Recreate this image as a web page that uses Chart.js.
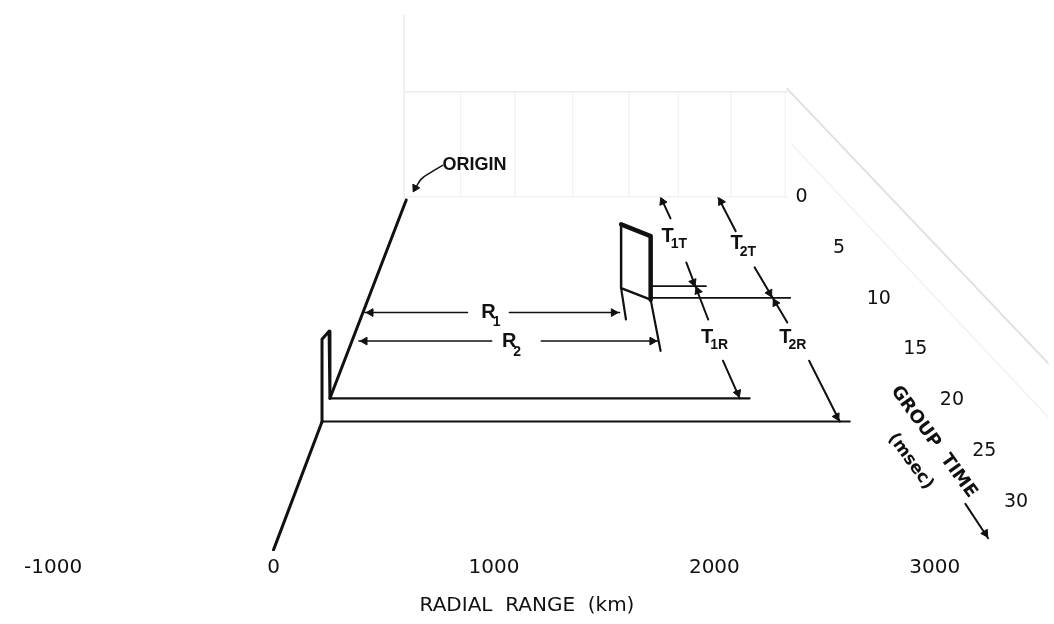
<!DOCTYPE html>
<html>
<head>
<meta charset="utf-8">
<script src="https://cdn.jsdelivr.net/npm/chart.js@4.4.1/dist/chart.umd.min.js"></script>
<style>
  html, body { margin: 0; padding: 0; background: #fff; }
  canvas { display: block; }
</style>
</head>
<body>
<canvas id="chart" width="1054" height="624"></canvas>
<script>
// axe horizontal : portee radiale (km), axe "vertical" : temps de groupe (msec)
const rangeTicks = [-1000, 0, 1000, 2000, 3000];
const groupTimeTicks = [0, 5, 10, 15, 20, 25, 30];
// ou se place chaque etiquette du temps de groupe le long de l'axe oblique (km)
const groupTimeTickRange = [2396, 2566, 2746, 2912, 3078, 3225, 3369];

// traces, en [km, msec]
const originLower = [[0, 34.9], [220, 22.3]];
const originSpike = [[220, 22.3], [220, 14.2], [252, 13.4], [256, 20.0]];
const originUpper = [[256, 20.0], [602, 0.5]];
const originLeader = [[768, -2.9], [714, -2.22], [670, -1.55], [640, -0.5]];
const echo1 = [[256, 20.0], [2160, 20.0]];
const echo2 = [[220, 22.28], [2614, 22.28]];

const boxThick = [[1577, 2.9], [1711, 4.05], [1711, 10.3]];
const boxThin = [[1711, 10.3], [1577, 9.16], [1577, 2.9]];
const boxLeg1 = [[1577, 9.16], [1599, 12.25]];
const boxLeg2 = [[1711, 10.3], [1756, 15.33]];
const boxEcho1 = [[1711, 8.97], [1962, 8.97]];
const boxEcho2 = [[1711, 10.13], [2344, 10.13]];

const r1Left = [[414, 11.57], [880, 11.57]];
const r1Right = [[1070, 11.57], [1570, 11.57]];
const r2Left = [[387, 14.37], [990, 14.37]];
const r2Right = [[1215, 14.37], [1745, 14.37]];

const t1Top = [[1756, 0.19], [1801, 2.31]];
const t1Mid = [[1873, 6.65], [1972, 12.25]];
const t1Low = [[2039, 16.3], [2115, 20.0]];
const t2Top = [[2016, 0.19], [2097, 3.57]];
const t2Mid = [[2183, 7.13], [2331, 12.54]];
const t2Low = [[2430, 16.3], [2569, 22.28]];
const groupArrow = [[3139, 30.38], [3242, 33.76]];

// pointes de fleches
const arrowHeads = [[441, 11.57], [1543, 11.57], [414, 14.37], [1718, 14.37], [643, -0.68],
  [1765, 0.67], [1904, 8.58], [1925, 9.45], [2106, 19.48],
  [2030, 0.67], [2250, 9.64], [2277, 10.61], [2555, 21.8], [3229, 33.27]];

// grille de fond (tres pale)
const backPlane = [[593, 0.48], [593, -17.66]];
const backTop = [[593, -10.13], [2331, -10.13]];
const backBottom = [[593, 0.19], [2331, 0.19]];
const backDiag = [[2331, -10.42], [3516, 16.59]];
const backDiag2 = [[2353, -4.92], [3516, 21.89]];
const backVerticals = [849, 1096, 1357, 1613, 1837, 2075, 2322];

// textes : [texte, indice, km, msec]
const labels = [['T', '1T', 1788, 4.05], ['T', '2T', 2101, 4.82], ['T', '1R', 1967, 13.98],
  ['T', '2R', 2322, 13.98], ['R', '1', 975, 11.57], ['R', '2', 1069, 14.46]];

const ink = '#111';

function seg(points, width, color, extra) {
  return Object.assign({
    data: points.map(([x, y]) => ({ x, y })),
    showLine: true, borderColor: color, borderWidth: width,
    pointRadius: 0, tension: 0, borderCapStyle: 'round', borderJoinStyle: 'round'
  }, extra || {});
}

const datasets = [
  seg(backPlane, 1.5, '#ebebeb'), seg(backTop, 1.5, '#ebebeb'), seg(backBottom, 1.5, '#f2f2f2'),
  seg(backDiag, 2, '#e0e0e0'), seg(backDiag2, 1.5, '#f2f2f2'),
  ...backVerticals.map(v => seg([[v, -10.13], [v, 0.19]], 1, '#f3f3f3')),
  seg(originLower, 3, ink), seg(originSpike, 3, ink), seg(originUpper, 3, ink),
  seg(originLeader, 1.5, ink, { tension: 0.4 }),
  seg(echo1, 2.2, ink), seg(echo2, 2.2, ink),
  seg(boxThin, 2.5, ink), seg(boxThick, 4.5, ink),
  seg(boxLeg1, 2.2, ink), seg(boxLeg2, 2.2, ink),
  seg(boxEcho1, 1.8, ink), seg(boxEcho2, 1.8, ink),
  seg(r1Left, 1.5, ink), seg(r1Right, 1.5, ink), seg(r2Left, 1.5, ink), seg(r2Right, 1.5, ink),
  seg(t1Top, 2, ink), seg(t1Mid, 2, ink), seg(t1Low, 2, ink),
  seg(t2Top, 2, ink), seg(t2Mid, 2, ink), seg(t2Low, 2, ink),
  seg(groupArrow, 2, ink),
  {
    data: arrowHeads.map(([x, y]) => ({ x, y })),
    showLine: false, pointStyle: 'triangle', pointRadius: 4.5,
    pointRotation: [270, 90, 270, 90, 208, 336, 159, 339, 159, 332, 152, 332, 152, 147],
    backgroundColor: ink, borderColor: ink, borderWidth: 1
  }
];

// textes dessines par dessus (etiquettes, axe oblique)
const textPlugin = {
  id: 'texts',
  afterDatasetsDraw(chart) {
    const { ctx, scales: { x, y } } = chart;
    ctx.save();
    ctx.fillStyle = ink;
    ctx.textBaseline = 'middle';

    // ORIGIN
    ctx.font = 'bold 18px "Liberation Sans"';
    ctx.textAlign = 'center';
    ctx.fillText('ORIGIN', x.getPixelForValue(912), y.getPixelForValue(-2.9));

    // T et R avec indices
    labels.forEach(([main, sub, km, ms]) => {
      const px = x.getPixelForValue(km), py = y.getPixelForValue(ms);
      ctx.font = 'bold 20px "Liberation Sans"';
      ctx.textAlign = 'center';
      ctx.fillText(main, px, py);
      const w = ctx.measureText(main).width;
      ctx.font = 'bold 14px "Liberation Sans"';
      ctx.textAlign = 'left';
      ctx.fillText(sub, px + w / 2 - 3, py + (main === 'R' ? 10 : 8));
    });

    // graduations du temps de groupe
    ctx.font = '19px "DejaVu Sans"';
    ctx.textAlign = 'center';
    groupTimeTicks.forEach((t, i) => {
      ctx.fillText(String(t), x.getPixelForValue(groupTimeTickRange[i]), y.getPixelForValue(t + 0.2));
    });

    // titre oblique
    const drawRot = (txt, km, ms, font) => {
      ctx.save();
      ctx.translate(x.getPixelForValue(km), y.getPixelForValue(ms));
      ctx.rotate(54 * Math.PI / 180);
      ctx.font = font;
      ctx.textAlign = 'center';
      ctx.fillText(txt, 0, 0);
      ctx.restore();
    };
    drawRot('GROUP  TIME', 2995, 24.3, 'bold 18px "DejaVu Sans"');
    drawRot('(msec)', 2890, 26.2, 'bold 17px "DejaVu Sans"');
    ctx.restore();
  }
};

const ctx = document.getElementById('chart').getContext('2d');
const chart = new Chart(ctx, {
  type: 'scatter',
  data: { datasets },
  options: {
    responsive: false,
    animation: false,
    events: [],
    layout: { padding: { left: 0, right: 0, top: 0, bottom: 4 } },
    plugins: { legend: { display: false }, tooltip: { enabled: false } },
    scales: {
      x: {
        type: 'linear', min: -1216, max: 3516,
        grid: { display: false, drawTicks: false },
        border: { display: false },
        afterBuildTicks: s => { s.ticks = rangeTicks.map(v => ({ value: v })); },
        ticks: {
          color: ink, padding: 5, maxRotation: 0, autoSkip: false,
          font: { family: 'DejaVu Sans', size: 20 },
          callback: v => String(v)
        },
        title: {
          display: true, text: 'RADIAL  RANGE  (km)', color: ink,
          font: { family: 'DejaVu Sans', size: 20 },
          padding: { top: 9, bottom: 2 }
        }
      },
      y: {
        type: 'linear', reverse: true, min: -18.62, max: 35.01, display: false
      }
    }
  },
  plugins: [textPlugin]
});
</script>
</body>
</html>
